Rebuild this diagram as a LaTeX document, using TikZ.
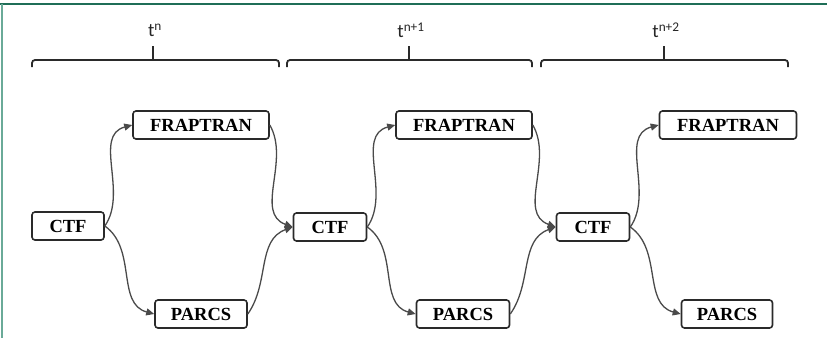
\documentclass[tikz,border=0pt]{standalone}
\usepackage{fontspec}
\setmainfont{Liberation Serif}
\newfontfamily\labelfont{Carlito}
\usetikzlibrary{arrows.meta}
\definecolor{frameDark}{HTML}{1F6E57}
\definecolor{frameLight}{HTML}{6AAA98}
\definecolor{lineGrey}{HTML}{2A2A2A}
\tikzset{
  code/.style={draw=lineGrey, line width=1.6pt, rounded corners=3pt, fill=white,
    font=\bfseries\fontsize{18.5}{20}\selectfont, inner sep=0pt, minimum height=28pt},
  link/.style={draw=lineGrey!85, line width=1.3pt, -{Triangle[length=8pt,width=7pt]}},
  brace/.style={draw=lineGrey, line width=1.8pt, rounded corners=3pt},
  steplabel/.style={font=\labelfont\fontsize{19}{21}\selectfont, text=black!85}
}
\begin{document}
\begin{tikzpicture}[x=1pt,y=-1pt]
\useasboundingbox (0,0) rectangle (827,338);
% frame
\draw[frameDark, line width=1.5pt] (0,4) -- (827,4);
\draw[frameLight, line width=2pt] (2,4) -- (2,338);

% time-step braces
\foreach \xa/\xm/\xb/\lab/\nm in {32/153/279/n/a, 287/409/532/n+1/b, 541/664/788/n+2/c}{
  \draw[brace] (\xa,67) -- (\xa,60) -- (\xb,60) -- (\xb,67);
  \draw[brace] (\xm,60) -- (\xm,46);
  \node[steplabel] (lab\nm) at (\xm+2,30) {t\textsuperscript{\lab}};
}

% nodes
\node[code, minimum width=72pt]  (ctfa)  at (68,226)  {CTF};
\node[code, minimum width=136pt] (fraa)  at (201,125) {FRAPTRAN};
\node[code, minimum width=92pt]  (para)  at (201,314) {PARCS};
\node[code, minimum width=73pt]  (ctfb)  at (330,227) {CTF};
\node[code, minimum width=136pt] (frab)  at (464,125) {FRAPTRAN};
\node[code, minimum width=93pt]  (parb)  at (463,314) {PARCS};
\node[code, minimum width=73pt]  (ctfc)  at (593,227) {CTF};
\node[code, minimum width=137pt] (frac)  at (728,125) {FRAPTRAN};
\node[code, minimum width=91pt]  (parc)  at (727,314) {PARCS};

% couplings (angles are on the page: positive = upward)
\foreach \c/\f/\p/\n in {ctfa/fraa/para/ctfb, ctfb/frab/parb/ctfc}{
  \draw[link] (\c.east) to[out=55,in=195,looseness=1] (\f.west);
  \draw[link] (\c.east) to[out=-35,in=165,looseness=1] (\p.west);
  \draw[link] (\f.east) to[out=-60,in=160,looseness=1] (\n.west);
  \draw[link] (\p.east) to[out=55,in=200,looseness=1] (\n.west);
}
\draw[link] (ctfc.east) to[out=55,in=195,looseness=1] (frac.west);
\draw[link] (ctfc.east) to[out=-35,in=165,looseness=1] (parc.west);
\end{tikzpicture}
\end{document}
